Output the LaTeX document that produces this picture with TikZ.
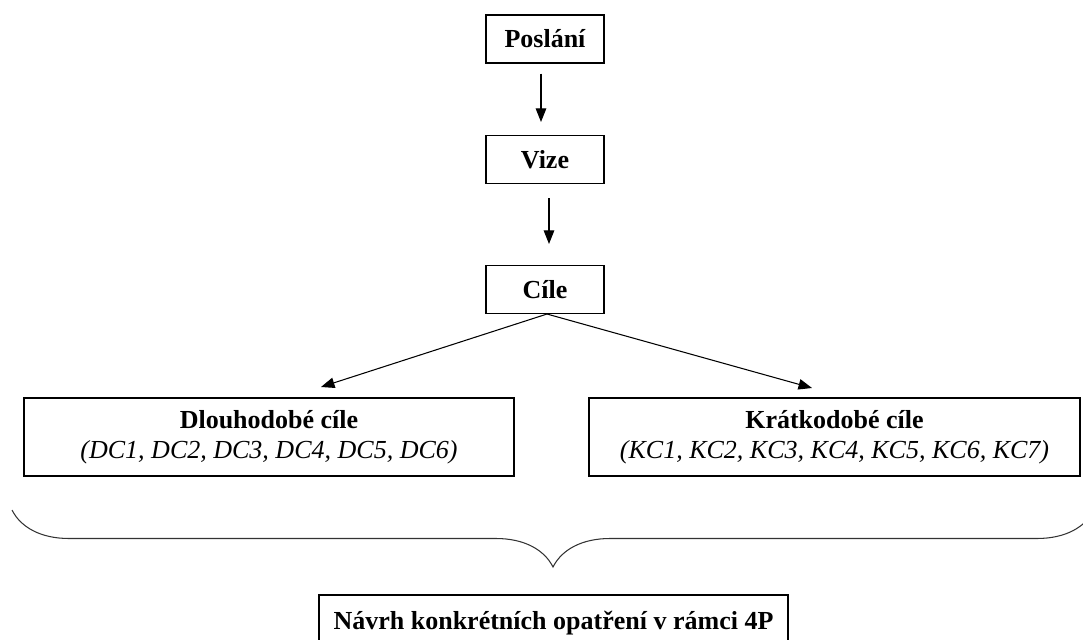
\documentclass[tikz,border=0pt]{standalone}
\usepackage{fontspec}
\setmainfont{Liberation Serif}
\usetikzlibrary{arrows.meta, positioning, calc, decorations.pathreplacing}
\tikzset{goalbox/.style={draw, line width=0.6pt, inner sep=0pt, minimum height=0.96cm, minimum width=2.36cm, font=\fontsize{14.8}{17}\selectfont\bfseries}}
\tikzset{widebox/.style={goalbox, minimum width=9.8cm, minimum height=1.56cm, align=center}}
\tikzset{goalarrow/.style={-{Triangle[length=0.27cm, width=0.21cm]}, line width=0.6pt}}
\tikzset{brace/.style={decorate, decoration={brace, amplitude=1.14cm}, line width=0.6pt, black!80}}

\begin{document}
\begin{tikzpicture}
\useasboundingbox (0,0) rectangle (21.66,12.78);

\node[goalbox] (posl) at (10.9, 12.0) {Poslání};
\node[goalbox] (vize) at (10.9, 9.59) {Vize};
\node[goalbox] (cile) at (10.9, 6.99) {Cíle};

\node[widebox] (dc) at (5.38, 4.04) {\raisebox{-0.1cm}{Dlouhodobé cíle}\\ \raisebox{-0.1cm}{\mdseries\itshape (DC1, DC2, DC3, DC4, DC5, DC6)}};
\node[widebox, minimum width=9.82cm] (kc) at (16.69, 4.04) {\raisebox{-0.1cm}{Krátkodobé cíle}\\ \raisebox{-0.1cm}{\mdseries\itshape (KC1, KC2, KC3, KC4, KC5, KC6, KC7)}};

\node[goalbox, minimum width=9.38cm, minimum height=1.12cm] (navrh) at (11.07, 0.32) {Návrh konkrétních opatření v rámci 4P};

\draw[goalarrow, shorten <=0.2cm, shorten >=0.26cm] ([xshift=-0.08cm]posl.south) -- ([xshift=-0.08cm]vize.north);
\draw[goalarrow, shorten <=0.28cm, shorten >=0.42cm] ([xshift=0.08cm]vize.south) -- ([xshift=0.08cm]cile.north);

\coordinate (dctip) at (6.42, 5.04);
\coordinate (kctip) at (16.24, 5.02);
\draw[goalarrow] ([xshift=0.04cm]cile.south) -- (dctip);
\draw[goalarrow] ([xshift=0.04cm]cile.south) -- (kctip);

\draw[brace] (21.88, 2.58) -- (0.24, 2.58);

\end{tikzpicture}
\end{document}
